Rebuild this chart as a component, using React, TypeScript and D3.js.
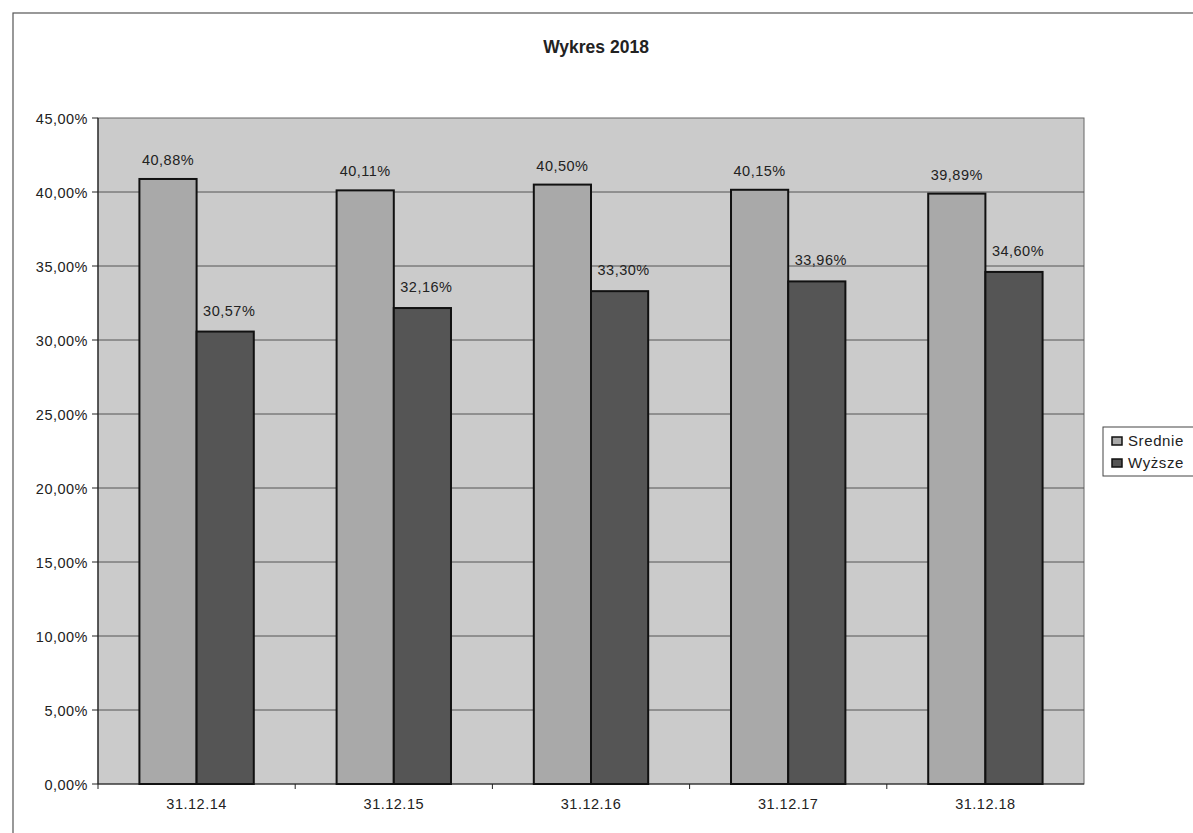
import React from "react";
import * as d3 from "d3";

const categories = ["31.12.14", "31.12.15", "31.12.16", "31.12.17", "31.12.18"];
const seriesNames = ["Srednie", "Wyższe"];
const srednie = [40.88, 40.11, 40.5, 40.15, 39.89];
const wyzsze = [30.57, 32.16, 33.3, 33.96, 34.6];
const yTicks = [0, 5, 10, 15, 20, 25, 30, 35, 40, 45];
const colors = ["#a9a9a9", "#555555"];

const fmt = (v: number) => v.toFixed(2).replace(".", ",") + "%";

export default function App() {
  const W = 1193, H = 833;
  const left = 98, right = 1084, top = 118, bottom = 784;
  const y = d3.scaleLinear().domain([0, 45]).range([bottom, top]);
  const x0 = d3.scaleBand().domain(categories).range([left, right]).paddingInner(0.42).paddingOuter(0.21);
  const x1 = d3.scaleBand().domain(seriesNames).range([0, x0.bandwidth()]);
  const series = [srednie, wyzsze];
  const font = "'Liberation Sans', Arial, sans-serif";
  const fs = 14.5;
  const ls = 0.5;
  return (
    <svg width={W} height={H} style={{ position: "absolute", left: 0, top: 0, background: "#fff" }} fontFamily={font}>
      <rect x={13} y={13} width={W} height={H} fill="#fff" stroke="#555" strokeWidth={1.2} />
      <text x={596} y={53} textAnchor="middle" fontSize={17.5} fontWeight="bold" fill="#222">Wykres 2018</text>
      <rect x={left} y={top} width={right - left} height={bottom - top} fill="#cbcbcb" stroke="#666" strokeWidth={1} />
      {yTicks.map((t) => (
        <g key={t}>
          {t > 0 && t < 45 && <line x1={left} x2={right} y1={y(t)} y2={y(t)} stroke="#555" strokeWidth={1} />}
          <line x1={left - 6} x2={left} y1={y(t)} y2={y(t)} stroke="#222" />
          <text x={left - 10} y={y(t) + 5.5} textAnchor="end" fontSize={fs} letterSpacing={ls} fill="#222">{fmt(t)}</text>
        </g>
      ))}
      <line x1={left} x2={left} y1={top} y2={bottom} stroke="#222" strokeWidth={1.2} />
      <line x1={left} x2={right} y1={bottom} y2={bottom} stroke="#222" strokeWidth={1.2} />
      {categories.map((c, i) => {
        const xStart = left + (i * (right - left)) / categories.length;
        return <line key={"t" + c} x1={xStart} x2={xStart} y1={bottom} y2={bottom + 5} stroke="#222" />;
      })}
      {categories.map((c, i) => (
        <g key={c} transform={`translate(${x0(c)},0)`}>
          {series.map((s, j) => (
            <rect key={j} x={x1(seriesNames[j])} y={y(s[i])} width={x1.bandwidth()} height={bottom - y(s[i])} fill={colors[j]} stroke="#111" strokeWidth={2} />
          ))}
          <text x={(x1(seriesNames[0]) as number) + x1.bandwidth() / 2} y={y(srednie[i]) - 14} textAnchor="middle" fontSize={fs} letterSpacing={ls} fill="#222">{fmt(srednie[i])}</text>
          <text x={(x1(seriesNames[1]) as number) + x1.bandwidth() / 2 + 4} y={y(wyzsze[i]) - 16} textAnchor="middle" fontSize={fs} letterSpacing={ls} fill="#222">{fmt(wyzsze[i])}</text>
          <text x={x0.bandwidth() / 2} y={bottom + 25} textAnchor="middle" fontSize={fs} letterSpacing={ls} fill="#222">{c}</text>
        </g>
      ))}
      <rect x={1103} y={427} width={95} height={49} fill="#fff" stroke="#444" strokeWidth={1} />
      {seriesNames.map((n, j) => (
        <g key={n} transform={`translate(1112,${441 + j * 22})`}>
          <rect x={0} y={-4} width={10} height={8} fill={colors[j]} stroke="#111" strokeWidth={1.5} />
          <text x={16} y={5} fontSize={15} letterSpacing={0.6} fill="#222">{n}</text>
        </g>
      ))}
    </svg>
  );
}
